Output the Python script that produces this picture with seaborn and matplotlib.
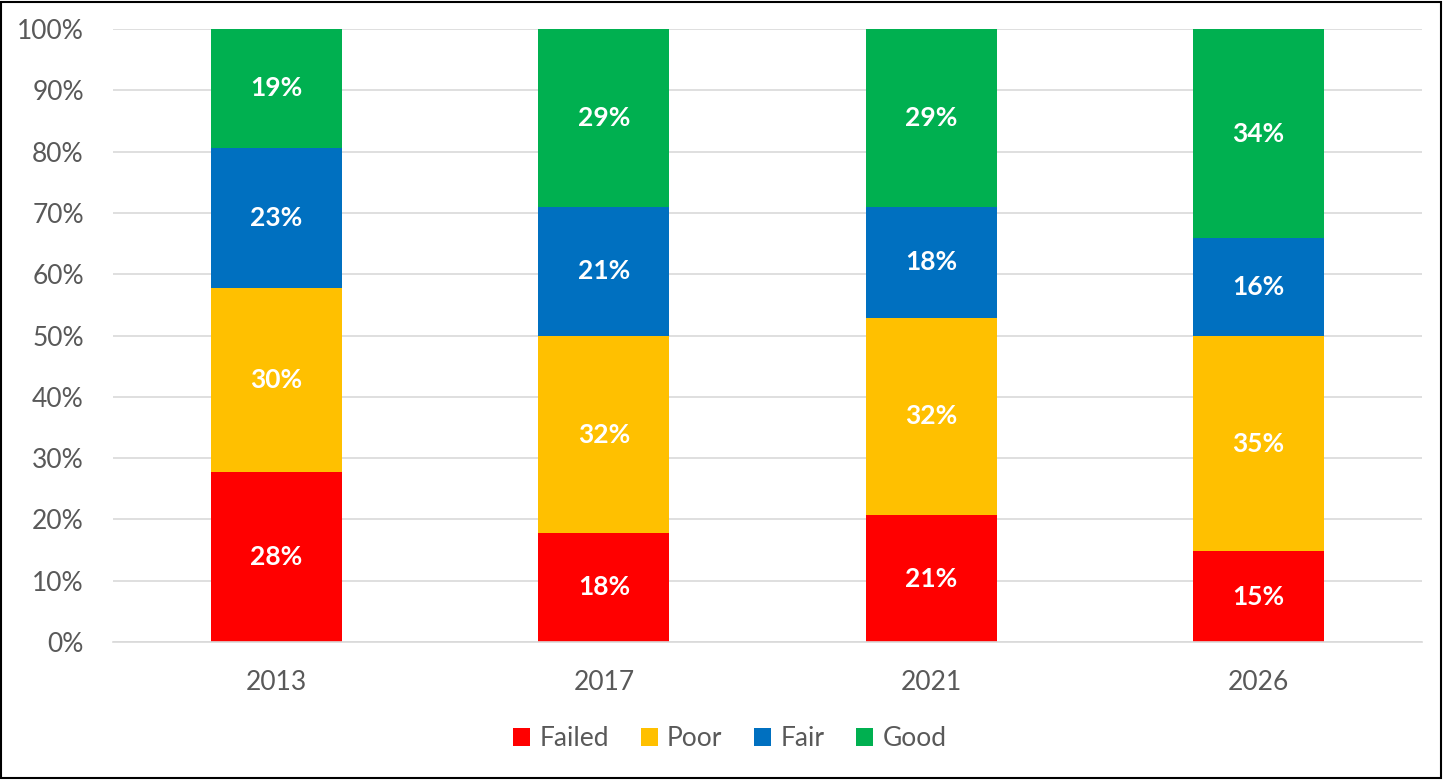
import numpy as np
import pandas as pd
import matplotlib
matplotlib.use("Agg")
import matplotlib.pyplot as plt
from matplotlib.patches import Patch, Rectangle
import seaborn as sns

sns.set_style('white')
plt.rcParams['font.family'] = ['Lato', 'DejaVu Sans']

years = ['2013', '2017', '2021', '2026']
conditions = ['Failed', 'Poor', 'Fair', 'Good']
failed = [27.7, 17.8, 20.7, 14.8]
poor = [30.0, 32.1, 32.2, 35.1]
fair = [22.9, 21.1, 18.1, 16.0]
good = [19.4, 29.0, 29.0, 34.1]
colors = ['#FF0000', '#FFC000', '#0070C0', '#00B050']

grey = '#595959'
gridc = '#D9D9D9'

# long table with cumulative bottoms / tops per segment
rows = []
for i, y in enumerate(years):
    bottom = 0.0
    for cond, vals in zip(conditions, [failed, poor, fair, good]):
        rows.append({'year': y, 'condition': cond, 'share': vals[i],
                     'bottom': bottom, 'top': bottom + vals[i]})
        bottom += vals[i]
df = pd.DataFrame(rows)

fig = plt.figure(figsize=(14.48, 7.80), dpi=100)
ax = fig.add_axes([0.078, 0.1769, 0.904, 0.7859])

# draw tallest cumulative first so the lower segments sit on top
for cond, c in reversed(list(zip(conditions, colors))):
    sub = df[df['condition'] == cond]
    sns.barplot(data=sub, x='year', y='top', order=years, color=c,
                saturation=1, width=0.4, linewidth=0, ax=ax, zorder=2)

for _, r in df.iterrows():
    xi = years.index(r['year'])
    ax.text(xi, r['bottom'] + r['share'] / 2, '%.0f%%' % r['share'],
            ha='center', va='center', color='white', fontsize=19,
            fontweight='bold', zorder=3)

ax.set_xlim(-0.5, 3.5)
ax.set_ylim(0, 100)
ax.set_yticks(np.arange(0, 101, 10))
ax.set_yticklabels(['%d%%' % v for v in range(0, 101, 10)])
ax.yaxis.grid(True, color=gridc, linewidth=1.2, zorder=0)
ax.set_axisbelow(True)
for s in ['top', 'right', 'left']:
    ax.spines[s].set_visible(False)
ax.spines['bottom'].set_color(gridc)
ax.spines['bottom'].set_linewidth(1.2)
ax.tick_params(axis='both', length=0, labelsize=19, colors=grey)
ax.tick_params(axis='y', pad=21)
ax.tick_params(axis='x', pad=20)
ax.set_xlabel('')
ax.set_ylabel('')

handles = [Patch(facecolor=c, edgecolor='none', label=l)
           for l, c in zip(conditions, colors)]
leg = fig.legend(handles=handles, loc='center', bbox_to_anchor=(0.504, 0.053),
                 ncol=4, frameon=False, fontsize=19, handlelength=0.65,
                 handleheight=0.65, handletextpad=0.35, columnspacing=1.2)
for t in leg.get_texts():
    t.set_color(grey)

fig.patches.append(Rectangle((0.001, 0.002), 0.994, 0.996, transform=fig.transFigure,
                             fill=False, edgecolor='black', linewidth=1.5))

fig.savefig('out.png', dpi=100)
plt.close()
